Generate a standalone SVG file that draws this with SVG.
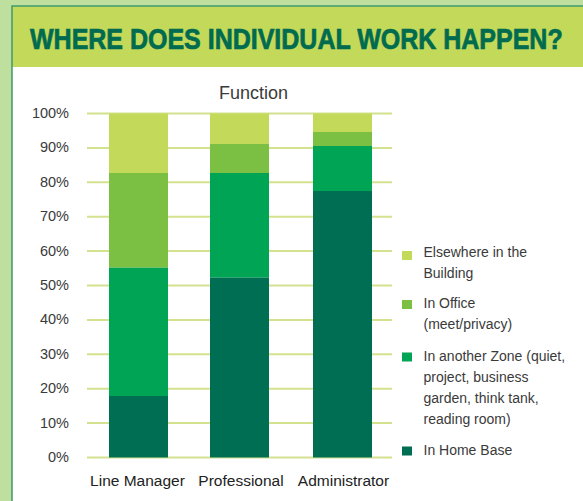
<svg xmlns="http://www.w3.org/2000/svg" width="583" height="501" viewBox="0 0 583 501">
<style>
.t{font-family:"Liberation Sans",Arial,sans-serif;fill:#3a3a3a}
.ax{font-size:14.5px;text-anchor:end}
.cat{font-size:15.5px;text-anchor:middle;fill:#222}
.lg{font-size:14px}
.grid{stroke:#d3e28f;stroke-width:2}
.c1{fill:#c2d95a}.c2{fill:#7bc043}.c3{fill:#00a455}.c4{fill:#006e52}
</style>
<rect x="0" y="0" width="583" height="501" fill="#bfdf9e"/>
<rect x="12" y="6" width="571" height="495" fill="#ffffff"/>
<rect x="12" y="6" width="571" height="61" fill="#c2d959"/>
<path d="M12 501 V6 H583" fill="none" stroke="#3f9b6d" stroke-width="1.5"/>
<g id="header">
<text transform="translate(30,49) scale(1,1.16)" x="0" y="0" font-family="Liberation Sans,Arial,sans-serif" font-weight="bold" font-size="25" fill="#006b4f" stroke="#006b4f" stroke-width="0.6">WHERE DOES INDIVIDUAL WORK HAPPEN?</text>
</g>
<text class="t" x="253.5" y="99" font-size="18" text-anchor="middle" fill="#222">Function</text>
<g id="grid">
<line class="grid" x1="87" x2="392" y1="113.5" y2="113.5"/>
<line class="grid" x1="87" x2="392" y1="147.9" y2="147.9"/>
<line class="grid" x1="87" x2="392" y1="182.3" y2="182.3"/>
<line class="grid" x1="87" x2="392" y1="216.7" y2="216.7"/>
<line class="grid" x1="87" x2="392" y1="251.1" y2="251.1"/>
<line class="grid" x1="87" x2="392" y1="285.5" y2="285.5"/>
<line class="grid" x1="87" x2="392" y1="319.9" y2="319.9"/>
<line class="grid" x1="87" x2="392" y1="354.3" y2="354.3"/>
<line class="grid" x1="87" x2="392" y1="388.7" y2="388.7"/>
<line class="grid" x1="87" x2="392" y1="423.1" y2="423.1"/>
<line class="grid" x1="87" x2="392" y1="457.5" y2="457.5"/>
</g>
<g id="yaxis" class="t ax">
<text x="69" y="118">100%</text>
<text x="69" y="152.4">90%</text>
<text x="69" y="186.8">80%</text>
<text x="69" y="221.2">70%</text>
<text x="69" y="255.6">60%</text>
<text x="69" y="290">50%</text>
<text x="69" y="324.4">40%</text>
<text x="69" y="358.8">30%</text>
<text x="69" y="393.2">20%</text>
<text x="69" y="427.6">10%</text>
<text x="69" y="462">0%</text>
</g>
<g id="bar-line-manager">
<rect class="c1" x="109" y="113.5" width="59" height="59.5"/>
<rect class="c2" x="109" y="173" width="59" height="94.7"/>
<rect class="c3" x="109" y="267.7" width="59" height="128.3"/>
<rect class="c4" x="109" y="396" width="59" height="61.5"/>
</g>
<g id="bar-professional">
<rect class="c1" x="210" y="113.5" width="59" height="30.5"/>
<rect class="c2" x="210" y="144" width="59" height="29"/>
<rect class="c3" x="210" y="173" width="59" height="104.7"/>
<rect class="c4" x="210" y="277.7" width="59" height="179.8"/>
</g>
<g id="bar-administrator">
<rect class="c1" x="313" y="113.5" width="59" height="18.5"/>
<rect class="c2" x="313" y="132" width="59" height="14"/>
<rect class="c3" x="313" y="146" width="59" height="45"/>
<rect class="c4" x="313" y="191" width="59" height="266.5"/>
</g>
<g id="xaxis" class="t cat">
<text x="137.5" y="485.5">Line Manager</text>
<text x="241" y="485.5">Professional</text>
<text x="343.5" y="485.5">Administrator</text>
</g>
<g id="legend" class="t lg">
<rect class="c1" x="402" y="251" width="10" height="9"/>
<text x="423.5" y="257">Elsewhere in the</text>
<text x="423.5" y="278">Building</text>
<rect class="c2" x="402" y="300" width="10" height="9"/>
<text x="423.5" y="307.5">In Office</text>
<text x="423.5" y="328.5">(meet/privacy)</text>
<rect class="c3" x="402" y="352.5" width="10" height="9"/>
<text x="423.5" y="361">In another Zone (quiet,</text>
<text x="423.5" y="382">project, business</text>
<text x="423.5" y="403">garden, think tank,</text>
<text x="423.5" y="424">reading room)</text>
<rect class="c4" x="402" y="446.5" width="10" height="9"/>
<text x="423.5" y="455">In Home Base</text>
</g>
</svg>
